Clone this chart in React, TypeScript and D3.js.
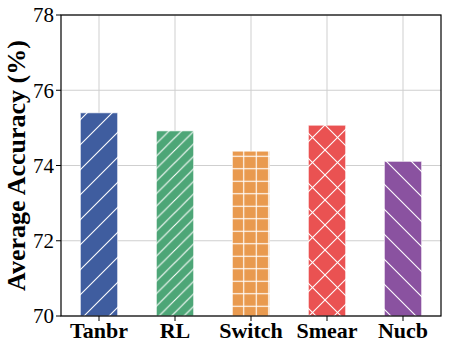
import React from "react";
import * as d3 from "d3";

const categories = ["Tanbr", "RL", "Switch", "Smear", "Nucb"];
const values = [75.4, 74.92, 74.38, 75.07, 74.11];
const colors = ["#3F5D9F", "#4DA677", "#E99A4F", "#EA5252", "#8A52A0"];
const hatches = ["slash", "dslash", "plus", "cross", "back"];
const yTicks = [70, 72, 74, 76, 78];

const W = 449, H = 352;
const M = { left: 61, right: 441, top: 15, bottom: 316 };
const FONT = "Liberation Serif, Times New Roman, Times, serif";

function Pattern({ id, kind, color }: { id: string; kind: string; color: string }) {
  const s = kind === "dslash" || kind === "plus" ? 12.5 : 25;
  const st = { stroke: "#fff", strokeWidth: 1.1, fill: "none" } as const;
  let lines: React.ReactNode = null;
  if (kind === "slash" || kind === "dslash") {
    lines = (
      <>
        <line x1={0} y1={s} x2={s} y2={0} {...st} />
        <line x1={-s / 2} y1={s / 2} x2={s / 2} y2={-s / 2} {...st} />
        <line x1={s / 2} y1={s * 1.5} x2={s * 1.5} y2={s / 2} {...st} />
      </>
    );
  } else if (kind === "back") {
    lines = (
      <>
        <line x1={0} y1={0} x2={s} y2={s} {...st} />
        <line x1={-s / 2} y1={s / 2} x2={s / 2} y2={s * 1.5} {...st} />
        <line x1={s / 2} y1={-s / 2} x2={s * 1.5} y2={s / 2} {...st} />
      </>
    );
  } else if (kind === "cross") {
    lines = (
      <>
        <line x1={0} y1={0} x2={s} y2={s} {...st} />
        <line x1={0} y1={s} x2={s} y2={0} {...st} />
      </>
    );
  } else if (kind === "plus") {
    lines = (
      <>
        <line x1={s / 2} y1={0} x2={s / 2} y2={s} {...st} />
        <line x1={0} y1={s / 2} x2={s} y2={s / 2} {...st} />
      </>
    );
  }
  return (
    <pattern id={id} patternUnits="userSpaceOnUse" width={s} height={s} x={0} y={0}>
      <rect width={s} height={s} fill={color} />
      {lines}
    </pattern>
  );
}

export default function App() {
  const x = d3.scaleBand<string>().domain(categories).range([M.left, M.right]).paddingInner(0).paddingOuter(0);
  const y = d3.scaleLinear().domain([70, 78]).range([M.bottom, M.top]);
  const bw = x.bandwidth() * 0.49;
  return (
    <svg width={W} height={H} style={{ position: "absolute", left: 0, top: 0, fontFamily: FONT }}>
      <defs>
        {categories.map((c, i) => (
          <Pattern key={c} id={`h${i}`} kind={hatches[i]} color={colors[i]} />
        ))}
      </defs>
      <rect width={W} height={H} fill="#fff" />
      {yTicks.map((t) => (
        <line key={t} x1={M.left} x2={M.right} y1={y(t)} y2={y(t)} stroke="#cfcfcf" strokeWidth={1} />
      ))}
      {categories.map((c) => (
        <line key={c} x1={x(c)! + x.bandwidth() / 2} x2={x(c)! + x.bandwidth() / 2} y1={M.top} y2={M.bottom} stroke="#cfcfcf" strokeWidth={1} />
      ))}
      {categories.map((c, i) => {
        const cx = x(c)! + x.bandwidth() / 2;
        return (
          <rect
            key={c}
            x={cx - bw / 2}
            y={y(values[i])}
            width={bw}
            height={y(70) - y(values[i])}
            fill={`url(#h${i})`}
            stroke="#ffffff"
            strokeOpacity={0.6}
            strokeWidth={1}
          />
        );
      })}
      <rect x={M.left} y={M.top} width={M.right - M.left} height={M.bottom - M.top} fill="none" stroke="#000" strokeWidth={1.2} />
      {yTicks.map((t) => (
        <g key={t}>
          <line x1={M.left - 5} x2={M.left} y1={y(t)} y2={y(t)} stroke="#000" strokeWidth={1} />
          <text x={M.left - 7} y={y(t)} dy="0.35em" textAnchor="end" style={{ fontFamily: FONT, fontSize: 21 }} fill="#000">
            {t}
          </text>
        </g>
      ))}
      {categories.map((c) => {
        const cx = x(c)! + x.bandwidth() / 2;
        return (
          <g key={c}>
            <line x1={cx} x2={cx} y1={M.bottom} y2={M.bottom + 5} stroke="#000" strokeWidth={1} />
            <text x={cx} y={338} textAnchor="middle" style={{ fontFamily: FONT, fontSize: 22, fontWeight: "bold" }} fill="#000">
              {c}
            </text>
          </g>
        );
      })}
      <text
        transform={`translate(25, ${(M.top + M.bottom) / 2}) rotate(-90)`}
        textAnchor="middle"
        style={{ fontFamily: FONT, fontSize: 26, fontWeight: "bold" }}
        fill="#000"
      >
        Average Accuracy (%)
      </text>
    </svg>
  );
}
